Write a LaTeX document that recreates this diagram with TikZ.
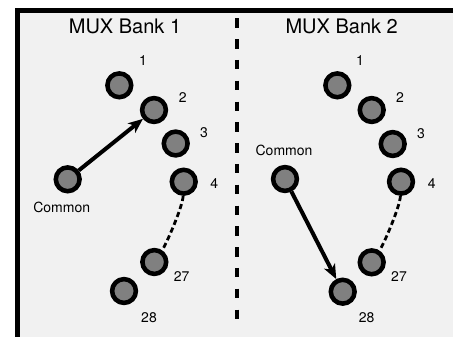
\documentclass[tikz,border=0pt]{standalone}
\usepackage{fontspec}
\setmainfont{TeX Gyre Heros}
\usetikzlibrary{arrows.meta}
\definecolor{panelbg}{RGB}{241,241,241}
\definecolor{portfill}{RGB}{128,128,128}
\begin{document}
\begin{tikzpicture}[x=0.75pt,y=-0.75pt,
  port/.style={circle, draw=black, line width=3.4pt, fill=portfill,
    minimum size=17.85pt, inner sep=0pt},
  num/.style={font=\fontsize{10.5}{12}\selectfont, inner sep=0pt},
  title/.style={font=\fontsize{15}{18}\selectfont, inner sep=0pt},
  route/.style={line width=3pt, -{Stealth[length=11pt,width=9pt,inset=3pt]}},
  span/.style={line width=2.1pt, dash pattern=on 3.9pt off 2.4pt},
  divider/.style={line width=3.4pt, dash pattern=on 7.1pt off 8.5pt}]

\useasboundingbox (0,0) rectangle (453,336);
\clip (0,0) rectangle (453,336);

% panel frame (continues past the right and bottom edges)
\draw[line width=3.75pt, fill=panelbg] (17.5,10) rectangle (480,360);

% divider between the two banks
\coordinate (dtop) at (236.8,18.3);
\coordinate (dbot) at (236.8,323.5);
\draw[divider] (dtop) -- (dbot);

% titles
\node[title] (t1) at (125,26.7) {MUX Bank 1};
\node[title] (t2) at (341.7,26.7) {MUX Bank 2};

% ---- bank 1 ----
\node[port] (a1)  at (119.3,85.3) {};
\node[port] (a2)  at (154,110) {};
\node[port] (a3)  at (175.7,143.5) {};
\node[port] (a4)  at (183.7,181.7) {};
\node[port] (a27) at (154.3,262) {};
\node[port] (a28) at (124,291) {};
\node[port] (ac)  at (67.7,179.3) {};

\node[num] (a1l)  at (143,61) {1};
\node[num] (a2l)  at (182.7,97.7) {2};
\node[num] (a3l)  at (204,133) {3};
\node[num] (a4l)  at (214.3,183.3) {4};
\node[num] (a27l) at (181.7,276.7) {27};
\node[num] (a28l) at (149,317.7) {28};
\node[num] (acl)  at (61.7,207.3) {Common};

\draw[route] (ac) -- (a2);
\draw[span] (a4) .. controls +(-1,25) and +(12,-18) .. (a27);

% ---- bank 2 ----
\node[port] (b1)  at (337.3,85.3) {};
\node[port] (b2)  at (371.7,110) {};
\node[port] (b3)  at (392.7,144) {};
\node[port] (b4)  at (401,181.7) {};
\node[port] (b27) at (371.7,262.3) {};
\node[port] (b28) at (342.7,291.7) {};
\node[port] (bc)  at (285,179) {};

\node[num] (b1l)  at (360,61) {1};
\node[num] (b2l)  at (400,97.7) {2};
\node[num] (b3l)  at (421,133.3) {3};
\node[num] (b4l)  at (431.7,183.3) {4};
\node[num] (b27l) at (399,276.7) {27};
\node[num] (b28l) at (366.7,317.7) {28};
\node[num] (bcl)  at (284,150) {Common};

\draw[route] (bc) -- (b28);
\draw[span] (b4) .. controls +(-1,25) and +(12,-18) .. (b27);
\end{tikzpicture}
\end{document}
